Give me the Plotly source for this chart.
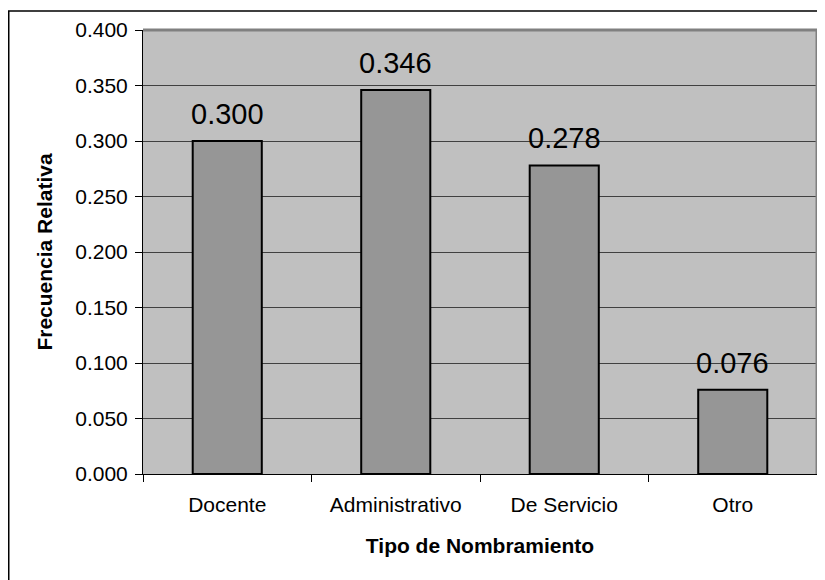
import plotly.graph_objects as go

categorias = ["Docente", "Administrativo", "De Servicio", "Otro"]
frecuencia_relativa = [0.300, 0.346, 0.278, 0.076]
etiquetas = ["0.300", "0.346", "0.278", "0.076"]
y_ticks = [0.000, 0.050, 0.100, 0.150, 0.200, 0.250, 0.300, 0.350, 0.400]
y_ticktext = ["0.000", "0.050", "0.100", "0.150", "0.200", "0.250", "0.300", "0.350", "0.400"]

FONT = "Liberation Sans, Arial, sans-serif"

fig = go.Figure(
    go.Bar(
        x=categorias,
        y=frecuencia_relativa,
        width=0.41,
        marker=dict(color="#969696", line=dict(color="black", width=2)),
        hoverinfo="x+y",
    )
)

for c, v, t in zip(categorias, frecuencia_relativa, etiquetas):
    fig.add_annotation(
        x=c, y=v, text=t, showarrow=False, yanchor="middle", yshift=27,
        font=dict(size=29, color="black", family=FONT),
    )

# page body has an 8px margin, so the figure is sized to fit inside it
W, H = 817, 572
L, R, T, B = 135, 8, 22, 106
pw, ph = W - L - R, H - T - B

# outer chart frame
fig.add_shape(
    type="rect", xref="paper", yref="paper",
    x0=(0.75 - L) / pw, x1=(W + 20 - L) / pw,
    y0=(T + ph - (H + 20)) / ph, y1=(T + ph - 3) / ph,
    line=dict(color="black", width=1.5), layer="below",
)
# plot-area gray border (top and right)
fig.add_shape(type="line", xref="paper", yref="paper", x0=0, x1=1, y0=1, y1=1,
              line=dict(color="#808080", width=3))
fig.add_shape(type="line", xref="paper", yref="paper", x0=1, x1=1, y0=0, y1=1,
              line=dict(color="#808080", width=3))

fig.update_layout(
    width=W, height=H,
    margin=dict(l=L, r=R, t=T, b=B, autoexpand=False),
    paper_bgcolor="white",
    plot_bgcolor="#c0c0c0",
    font=dict(family=FONT, color="black", size=21),
    showlegend=False,
    xaxis=dict(
        type="category",
        tickson="boundaries",
        ticks="outside", ticklen=7, tickcolor="black", tickwidth=1,
        showline=True, linecolor="black", linewidth=1,
        showgrid=False,
        tickfont=dict(size=21),
        ticklabelstandoff=12,
        title=dict(text="<b>Tipo de Nombramiento</b>", font=dict(size=21), standoff=23),
    ),
    yaxis=dict(
        range=[0, 0.4],
        tickvals=y_ticks, ticktext=y_ticktext,
        ticks="outside", ticklen=7, tickcolor="black", tickwidth=1,
        showline=True, linecolor="black", linewidth=1,
        showgrid=True, gridcolor="#404040", gridwidth=1,
        zeroline=False,
        tickfont=dict(size=21),
        ticklabelstandoff=3,
        title=dict(text="<b>Frecuencia Relativa</b>", font=dict(size=21), standoff=16),
    ),
)

fig.write_html("out.html")
